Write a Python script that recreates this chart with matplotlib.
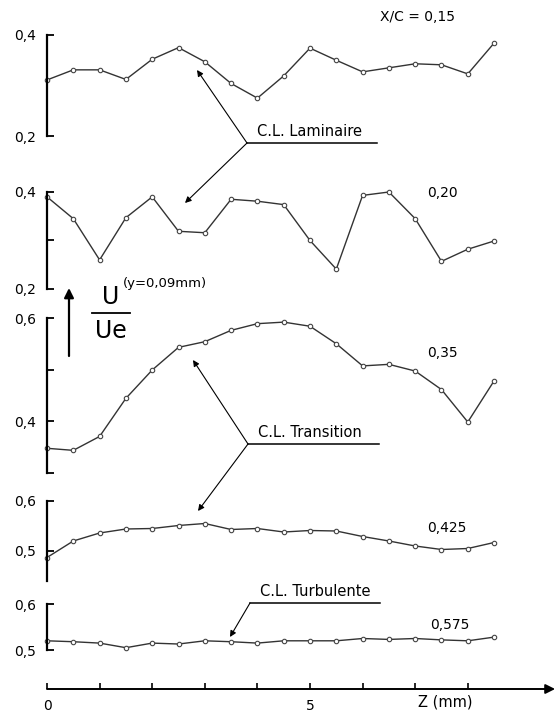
import numpy as np
import matplotlib.pyplot as plt

plt.rcParams['font.family'] = ['DejaVu Sans']

# spanwise positions Z (mm), same for every station
z = [0, 0.5, 1, 1.5, 2, 2.5, 3, 3.5, 4, 4.5, 5, 5.5, 6, 6.5, 7, 7.5, 8, 8.5]

# U/Ue at y = 0.09 mm, one list per station X/C
u_015 = [0.311, 0.331, 0.331, 0.312, 0.352, 0.375, 0.347, 0.304, 0.275,
         0.319, 0.374, 0.350, 0.327, 0.335, 0.343, 0.341, 0.323, 0.384]
u_020 = [0.390, 0.345, 0.260, 0.347, 0.390, 0.319, 0.316, 0.385, 0.381,
         0.374, 0.300, 0.241, 0.393, 0.400, 0.345, 0.257, 0.282, 0.299]
u_035 = [0.347, 0.343, 0.370, 0.444, 0.499, 0.543, 0.554, 0.576, 0.589,
         0.592, 0.584, 0.550, 0.507, 0.510, 0.497, 0.461, 0.398, 0.478]
u_0425 = [0.487, 0.520, 0.536, 0.544, 0.545, 0.551, 0.555, 0.543, 0.545,
          0.538, 0.541, 0.540, 0.529, 0.520, 0.510, 0.503, 0.505, 0.517]
u_0575 = [0.520, 0.518, 0.515, 0.505, 0.515, 0.513, 0.520, 0.518, 0.515,
          0.520, 0.520, 0.520, 0.525, 0.523, 0.525, 0.522, 0.520, 0.528]

station_labels = ['X/C = 0,15', '0,20', '0,35', '0,425', '0,575']

W, H = 558, 715
fig = plt.figure(figsize=(W / 100, H / 100), dpi=100)

X0 = 47          # pixel of Z = 0
PXMM = 52.6      # pixels per mm
XMAX = 9.7


def panel(v_hi, py_hi, v_lo, py_lo, top, bot):
    scale = (py_lo - py_hi) / (v_hi - v_lo)
    ytop = v_hi + (py_hi - top) / scale
    ybot = v_lo - (bot - py_lo) / scale
    ax = fig.add_axes([X0 / W, 1 - bot / H, XMAX * PXMM / W, (bot - top) / H])
    ax.set_xlim(0, XMAX)
    ax.set_ylim(ybot, ytop)
    ax.set_facecolor('none')
    for s in ['top', 'right', 'bottom']:
        ax.spines[s].set_visible(False)
    ax.spines['left'].set_linewidth(1.6)
    ax.set_xticks([])
    ax.tick_params(axis='y', direction='in', length=5, width=1.3,
                   labelsize=10, pad=8)
    return ax


def fmt(v):
    return ('%g' % v).replace('.', ',')


specs = [
    (u_015, (0.4, 35, 0.2, 136, 25, 140), (0.2, 0.4), [0.2, 0.4], [0.2, 0.4]),
    (u_020, (0.4, 192, 0.2, 289, 180, 292), (0.2, 0.4), [0.2, 0.3, 0.4], [0.2, 0.4]),
    (u_035, (0.6, 318, 0.4, 421, 305, 476), (0.3, 0.6), [0.3, 0.4, 0.5, 0.6], [0.4, 0.6]),
    (u_0425, (0.6, 501, 0.5, 551, 490, 582), (0.44, 0.6), [0.5, 0.6], [0.5, 0.6]),
    (u_0575, (0.6, 604, 0.5, 650, 595, 656), (0.5, 0.6), [0.5, 0.6], [0.5, 0.6]),
]

label_pos = [(417, 17), (442, 193), (442, 353), (447, 528), (450, 625)]

for (vals, geo, bounds, ticks, labelled), lab, (lx, ly) in zip(specs, station_labels, label_pos):
    ax = panel(*geo)
    ax.spines['left'].set_bounds(*bounds)
    ax.set_yticks(ticks)
    ax.set_yticklabels([fmt(t) if t in labelled else '' for t in ticks])
    ax.plot(z, vals, color='#333333', lw=1.0, marker='o', ms=3.2,
            mfc='white', mec='#444444', mew=0.8, clip_on=False)
    fig.text(lx / W, 1 - ly / H, lab, fontsize=10, ha='center', va='center')

# Z axis
axz = fig.add_axes([X0 / W, 1 - 689 / H, XMAX * PXMM / W, 10 / H])
axz.set_xlim(0, XMAX)
axz.set_ylim(0, 1)
axz.set_facecolor('none')
for s in ['top', 'right', 'left', 'bottom']:
    axz.spines[s].set_visible(False)
axz.set_yticks([])
axz.set_xticks(range(9))
axz.set_xticklabels(['0', '', '', '', '', '5', '', '', ''], fontsize=10)
axz.tick_params(axis='x', direction='in', length=4, width=1.2, pad=7)
axz.annotate('', xy=(9.66, 0), xytext=(0, 0), xycoords='data',
             arrowprops=dict(arrowstyle='-|>', lw=1.4, color='black',
                             mutation_scale=14, shrinkA=0, shrinkB=0),
             annotation_clip=False)
fig.text(445 / W, 1 - 702 / H, 'Z (mm)', fontsize=10.5, ha='center', va='center')

# overlay in pixel coordinates for annotations
ov = fig.add_axes([0, 0, 1, 1])
ov.set_xlim(0, W)
ov.set_ylim(H, 0)
ov.axis('off')
ov.set_facecolor('none')


def callout(text, x0, y0, x1, targets):
    ov.plot([x0, x1], [y0, y0], color='black', lw=1.1)
    ov.text(x0 + 10, y0 - 4, text, fontsize=10.5, ha='left', va='bottom')
    for tx, ty in targets:
        ov.annotate('', xy=(tx, ty), xytext=(x0, y0),
                    arrowprops=dict(arrowstyle='-|>', lw=0.8, color='black',
                                    mutation_scale=9, shrinkA=0, shrinkB=0))


callout('C.L. Laminaire', 247, 143, 377, [(197, 70), (185, 203)])
callout('C.L. Transition', 248, 444, 379, [(193, 360), (198, 511)])
callout('C.L. Turbulente', 250, 603, 380, [(230, 637)])

# ordinate label U/Ue
ov.annotate('', xy=(69, 288), xytext=(69, 356),
            arrowprops=dict(arrowstyle='-|>', lw=1.6, color='black',
                            mutation_scale=14, shrinkA=0, shrinkB=0))
ov.text(111, 297, 'U', fontsize=17, ha='center', va='center')
ov.plot([92, 130], [313, 313], color='black', lw=1.3)
ov.text(111, 331, 'Ue', fontsize=17, ha='center', va='center')
ov.text(123, 284, '(y=0,09mm)', fontsize=9.5, ha='left', va='center')

fig.savefig('out.png', dpi=100)
